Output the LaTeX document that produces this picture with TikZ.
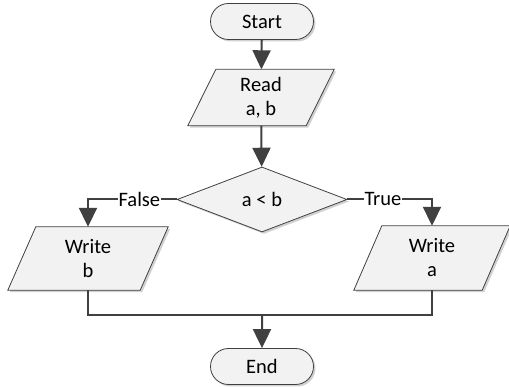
\documentclass[tikz,border=0pt]{standalone}
\usepackage{fontspec}
\setmainfont{Carlito}
\usetikzlibrary{shapes.geometric,shapes.misc,arrows.meta,shadows,backgrounds}
\definecolor{linec}{HTML}{404040}
\definecolor{borderc}{HTML}{404040}
\definecolor{fillc}{HTML}{F2F2F2}
\begin{document}
\begin{tikzpicture}[x=1pt,y=-1pt,
  every node/.style={font=\fontsize{20.5}{24}\selectfont, text=black},
  boxbase/.style={draw=borderc, line width=0.8pt, fill=fillc, inner sep=0pt,
    drop shadow={shadow xshift=2pt, shadow yshift=-2pt, opacity=0.18, fill=black}},
  term/.style={boxbase, rounded rectangle, minimum width=103pt, minimum height=36pt},
  iotext/.style={rectangle, inner sep=0pt, align=center},
  decis/.style={boxbase, diamond, minimum width=170pt, minimum height=65pt},
  conn/.style={draw=linec, line width=2pt},
  arr/.style={conn, -{Triangle[length=19pt,width=18pt]}},
  lbl/.style={fill=white, inner sep=1pt}
]
\useasboundingbox (0,0) rectangle (509,387);

\node[term] (start) at (262,21.5) {Start};
\node[iotext, minimum width=118pt, minimum height=56pt] (read) at (261,97.5) {Read\\a, b};
\node[decis] (cond) at (262,199.5) {a < b};
\node[iotext, minimum width=132pt, minimum height=63pt] (wb) at (88,258.5) {Write\\b};
\node[iotext, minimum width=128pt, minimum height=64pt] (wa) at (432,258) {Write\\a};
\node[term] (end) at (262,366.5) {End};
\coordinate (m) at (262,315);

\begin{scope}[on background layer]
\foreach \n in {read,wb,wa}{
  \filldraw[boxbase] ([xshift=14pt]\n.north west) -- ([xshift=14pt]\n.north east)
    -- ([xshift=-14pt]\n.south east) -- ([xshift=-14pt]\n.south west) -- cycle;
}
\end{scope}

\draw[arr] (start) -- (read);
\draw[arr] (read) -- (cond);
\draw[arr] (cond.west) -| node[lbl, pos=0.21] {False} (wb.north);
\draw[arr] (cond.east) -| node[lbl, pos=0.21] {True} (wa.north);
\draw[conn] (wb.south) |- (m);
\draw[conn] (wa.south) |- (m);
\draw[arr] (m) -- (end);
\end{tikzpicture}
\end{document}
